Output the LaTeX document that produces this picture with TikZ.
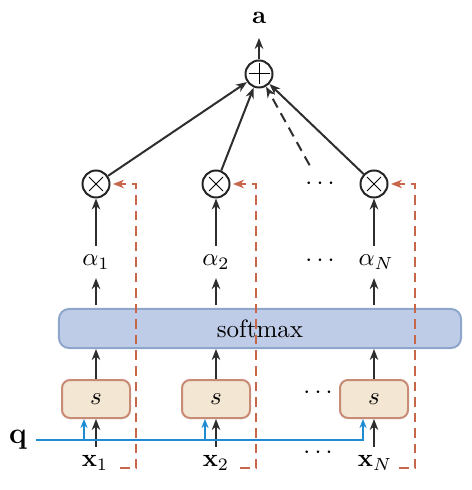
\documentclass[tikz,border=0pt]{standalone}
\usetikzlibrary{arrows.meta,calc}
\definecolor{arrgray}{HTML}{2E2E2E}
\definecolor{redd}{HTML}{C8664A}
\definecolor{blueq}{HTML}{1E8BD2}
\definecolor{smfill}{HTML}{BFCCE8}
\definecolor{smdraw}{HTML}{8EA6CC}
\definecolor{sfill}{HTML}{F3E6D2}
\definecolor{sdraw}{HTML}{C88B75}
\begin{document}
\begin{tikzpicture}[x=0.4pt,y=-0.4pt,
  tip/.style={-{Stealth[length=4.4pt,width=3.4pt,inset=1.4pt]}},
  arr/.style={draw=arrgray, line width=0.8pt, tip},
  opc/.style={circle, draw=black!85, line width=0.8pt, minimum size=10.8pt, inner sep=0pt},
  sbox/.style={draw=sdraw, fill=sfill, line width=0.8pt, rounded corners=3.2pt, minimum width=27.2pt, minimum height=15.2pt},
  smbox/.style={draw=smdraw, fill=smfill, line width=0.8pt, rounded corners=4pt, minimum width=160.8pt, minimum height=15.6pt},
  qarr/.style={draw=blueq, line width=0.8pt, -{Stealth[length=3.6pt,width=2.8pt,inset=1.1pt]}},
  rarr/.style={draw=redd, line width=0.8pt, dash pattern=on 3.8pt off 2.4pt, tip, shorten >=1pt},
  darr/.style={draw=arrgray, line width=0.8pt, dash pattern=on 4pt off 2.6pt, tip},
  symb/.style={draw=black, line width=0.4pt}
]
\useasboundingbox (0,0) rectangle (471,490);

% top
\node (a) at (259,18) {$\mathbf{a}$};
\node[opc] (plus) at (259,74) {};
\draw[symb] ($(plus)+(-10.5,0)$) -- ($(plus)+(10.5,0)$);
\draw[symb] ($(plus)+(0,-10.5)$) -- ($(plus)+(0,10.5)$);

% multiplication nodes
\node[opc] (t1) at (96,184) {};
\node[opc] (t2) at (216,184) {};
\node[opc] (tN) at (374,184) {};
\foreach \n in {t1,t2,tN}{
  \draw[symb] ($(\n)+(-7,-7)$) -- ($(\n)+(7,7)$);
  \draw[symb] ($(\n)+(-7,7)$) -- ($(\n)+(7,-7)$);
}
\node (d1) at (320,184) {$\cdots$};

% alpha labels
\node (al1) at (96,262) {$\alpha_1$};
\node (al2) at (216,262) {$\alpha_2$};
\node (alN) at (376,262) {$\alpha_N$};
\node (d2) at (320,261) {$\cdots$};

% softmax
\node[smbox] (sm) at (260,328.5) {softmax};

% score boxes
\node[sbox] (s1) at (96,399) {$s$};
\node[sbox] (s2) at (216,399) {$s$};
\node[sbox] (sN) at (374,399) {$s$};
\node (d3) at (318,393) {$\cdots$};

% inputs
\node (q) at (18,440) {\large$\mathbf{q}$};
\node (x1) at (95,463) {$\mathbf{x}_1$};
\node (x2) at (216,463) {$\mathbf{x}_2$};
\node (xN) at (375,463) {$\mathbf{x}_N$};
\node (d4) at (318,453) {$\cdots$};

% arrows to a
\draw[arr, shorten >=2.2pt] (plus.north) -- (a.south);
\draw[arr] (t1) -- (plus);
\draw[arr] (t2) -- (plus);
\draw[arr] (tN) -- (plus);
\draw[darr, shorten <=2pt] (d1) -- (plus);

% alpha -> times
\foreach \i/\t in {al1/t1,al2/t2,alN/tN}{
  \draw[arr] (\i.north -| \t) -- (\t);
  \draw[arr, shorten <=1pt] (sm.north -| \t) -- (\i.south -| \t);
}
% s -> softmax, x -> s
\foreach \s/\x in {s1/x1,s2/x2,sN/xN}{
  \draw[arr] (\s) -- (\s |- sm.south);
  \draw[arr] (\x.north -| \s) -- (\s.south);
}

% query line
\coordinate (b1) at ($(s1.south)+(-12,0)$);
\coordinate (b2) at ($(s2.south)+(-11,0)$);
\coordinate (bN) at ($(sN.south)+(-11,0)$);
\draw[qarr] (q.east) -| (bN);
\draw[qarr] (b1 |- q) -- (b1);
\draw[qarr] (b2 |- q) -- (b2);

% red dashed feeds
\coordinate (r1) at (120,468);
\coordinate (r2) at (240,468);
\coordinate (rN) at (399,468);
\draw[rarr] (r1) -| ($(t1)+(40,0)$) -- (t1);
\draw[rarr] (r2) -| ($(t2)+(40,0)$) -- (t2);
\draw[rarr] (rN) -| ($(tN)+(41,0)$) -- (tN);
\end{tikzpicture}
\end{document}
